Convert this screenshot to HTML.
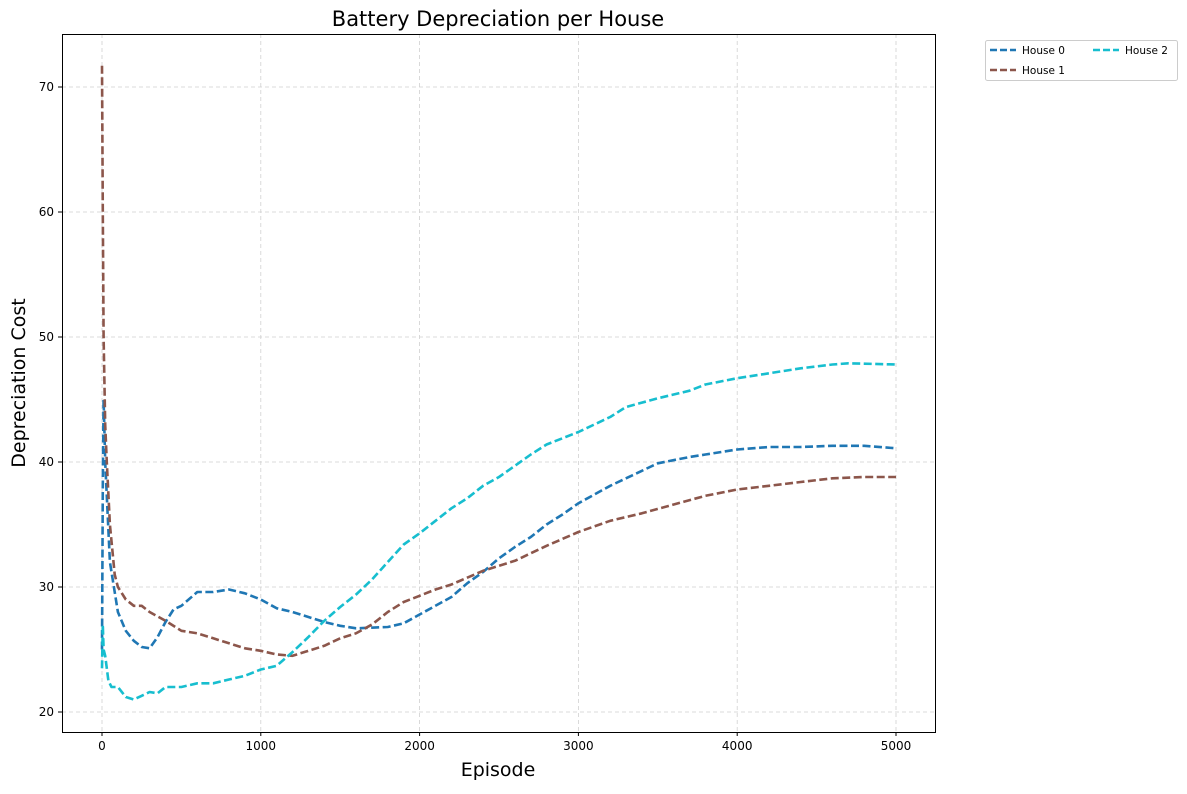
<!DOCTYPE html>
<html><head><meta charset="utf-8"><style>
body{margin:0;background:#fff;font-family:"DejaVu Sans","Liberation Sans",sans-serif;}
svg text{font-family:"DejaVu Sans","Liberation Sans",sans-serif;}
</style></head><body>
<svg id="chart" width="1187" height="790" xmlns="http://www.w3.org/2000/svg">
<rect width="1187" height="790" fill="#fff"/>
<g id="grid"></g><g id="series"></g><g id="axes"></g>
<text x="498" y="26" font-size="21" text-anchor="middle">Battery Depreciation per House</text>
<text x="498" y="776" font-size="19" text-anchor="middle">Episode</text>
<text transform="translate(25,383) rotate(-90)" font-size="19" text-anchor="middle">Depreciation Cost</text>
<g>
<rect x="985.5" y="40.5" width="192" height="40" fill="#fff" stroke="#ccc" rx="2"/>
<line x1="990" y1="50" x2="1016" y2="50" stroke="#1f77b4" stroke-width="2.5" stroke-dasharray="7,3"/>
<text x="1022" y="54" font-size="10.5">House 0</text>
<line x1="990" y1="70" x2="1016" y2="70" stroke="#8c564b" stroke-width="2.5" stroke-dasharray="7,3"/>
<text x="1022" y="74" font-size="10.5">House 1</text>
<line x1="1093" y1="50" x2="1119" y2="50" stroke="#17becf" stroke-width="2.5" stroke-dasharray="7,3"/>
<text x="1125" y="54" font-size="10.5">House 2</text>
</g>
</svg>
<script>
const xTicks=[0,1000,2000,3000,4000,5000];
const yTicks=[20,30,40,50,60,70];
const ep0=[0,5,10,20,50,100,150,200,250,300,350,400,450,500,600,700,800,900,1000,1100,1200,1300,1400,1500,1600,1800,1900,2000,2200,2300,2400,2500,2600,2700,2800,2900,3000,3200,3400,3500,3700,3800,4000,4200,4400,4600,4800,5000];
const house0=[25,38,45,40,32,28,26.5,25.7,25.2,25.1,26,27.2,28.2,28.5,29.6,29.6,29.8,29.5,29,28.3,28,27.6,27.2,26.9,26.7,26.8,27.1,27.8,29.2,30.3,31.2,32.3,33.2,34,35,35.8,36.7,38.1,39.3,39.9,40.4,40.6,41,41.2,41.2,41.3,41.3,41.1];
const ep1=[0,5,10,20,30,50,80,100,150,200,250,300,400,500,600,700,800,900,1000,1100,1200,1300,1400,1500,1600,1700,1800,1900,2000,2100,2200,2400,2600,2800,3000,3200,3400,3600,3800,4000,4200,4400,4600,4800,5000];
const house1=[71.7,60,50,43,40,35,31,30,29,28.5,28.5,28,27.3,26.5,26.3,25.9,25.5,25.1,24.9,24.6,24.5,24.9,25.3,25.9,26.3,27,28,28.8,29.3,29.8,30.2,31.3,32.1,33.3,34.4,35.3,35.9,36.6,37.3,37.8,38.1,38.4,38.7,38.8,38.8];
const ep2=[0,5,10,20,40,60,100,150,200,250,300,350,400,500,600,700,800,900,1000,1100,1200,1300,1400,1500,1600,1700,1800,1900,2000,2100,2200,2300,2400,2500,2600,2700,2800,3000,3200,3300,3500,3700,3800,4000,4200,4400,4600,4700,5000];
const house2=[23.5,27,25,24.5,22.5,22,22,21.2,21,21.3,21.6,21.5,22,22,22.3,22.3,22.6,22.9,23.4,23.7,24.8,26,27.3,28.4,29.4,30.6,32,33.4,34.3,35.3,36.3,37.1,38.1,38.8,39.7,40.6,41.4,42.4,43.6,44.4,45.1,45.7,46.2,46.7,47.1,47.5,47.8,47.9,47.8];
const L=62,R=935,T=34,B=732;
const xs=v=>102+v*(896-102)/5000;
const ys=v=>712-(v-20)*12.5;
const NS="http://www.w3.org/2000/svg";
const grid=document.getElementById('grid'),axes=document.getElementById('axes'),ser=document.getElementById('series');
function mk(tag,attrs,parent){const e=document.createElementNS(NS,tag);for(const k in attrs)e.setAttribute(k,attrs[k]);parent.appendChild(e);return e;}
xTicks.forEach(t=>{const x=xs(t);
 const g=mk('line',{x1:x,x2:x,y1:T,y2:B,stroke:'#d0d0d0','stroke-dasharray':'4,3','stroke-width':0.8},grid);
 
 
 mk('line',{x1:x,x2:x,y1:B,y2:B+4,stroke:'#000'},axes);
 const tx=mk('text',{x:x,y:B+18,'font-size':12,'text-anchor':'middle'},axes);tx.textContent=t;
 
 });
yTicks.forEach(t=>{const y=ys(t);
 const g=mk('line',{x1:L,x2:R,y1:y,y2:y,stroke:'#d0d0d0','stroke-dasharray':'4,3','stroke-width':0.8},grid);
 
 
 mk('line',{x1:L-4,x2:L,y1:y,y2:y,stroke:'#000'},axes);
 const tx=mk('text',{x:L-8,y:y+4,'font-size':12,'text-anchor':'end'},axes);tx.textContent=t;
 
 });
const fr=mk('rect',{x:L+0.5,y:T+0.5,width:R-L,height:B-T,fill:'none',stroke:'#000','stroke-width':1},axes);


[[ep0,house0,'#1f77b4','house-0-line'],[ep1,house1,'#8c564b','house-1-line'],[ep2,house2,'#17becf','house-2-line']].forEach(([ex,vs,c,n])=>{
 const d=ex.map((e,i)=>(i?'L':'M')+xs(e).toFixed(1)+','+ys(vs[i]).toFixed(1)).join(' ');
 const p=mk('path',{d:d,fill:'none',stroke:c,'stroke-width':2.6,'stroke-dasharray':'8,3.5','stroke-linejoin':'round'},ser);
 
 });
</script>
</body></html>
